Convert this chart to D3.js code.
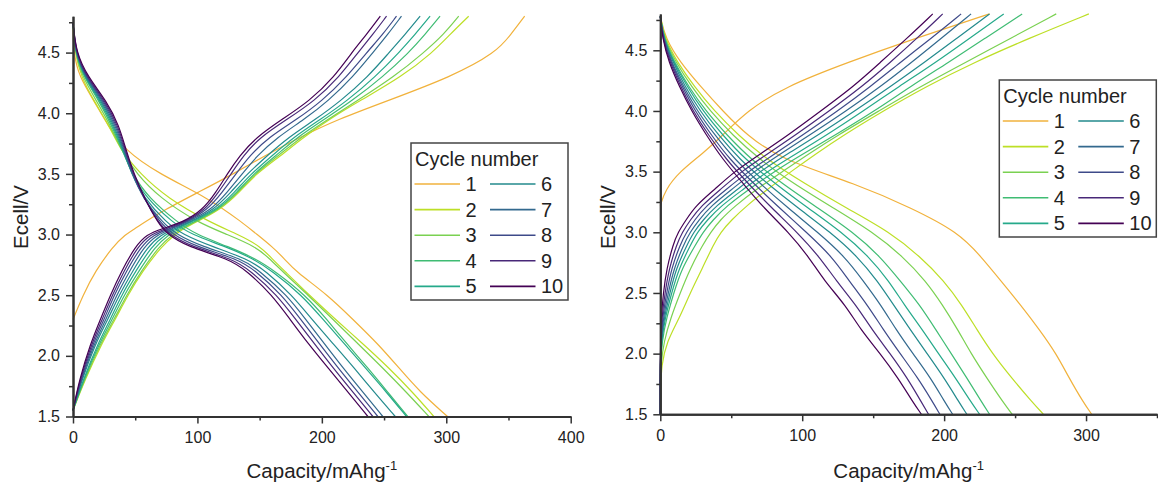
<!DOCTYPE html>
<html>
<head>
<meta charset="utf-8">
<script src="https://cdn.jsdelivr.net/npm/d3@7"></script>
<style>
  body { margin: 0; background: #fff; }
  text { font-family: Arial, "Liberation Sans", sans-serif; fill: #222; }
</style>
</head>
<body>
<script>
// cycle numbers and their colours
const cycles = [1, 2, 3, 4, 5, 6, 7, 8, 9, 10];
const cycleColors = ['#f1b23c', '#bddf26', '#7ad151', '#3fbc73', '#25a98a',
  '#238a8d', '#33698e', '#3e4a89', '#482878', '#440154'];

// left panel: capacity (mAh/g) read at fixed voltage levels, one row per cycle
const leftChargeV = [1.55, 1.8, 2.1, 2.3, 2.5, 2.7, 2.9, 3.0, 3.05, 3.1, 3.2,
  3.35, 3.5, 3.65, 3.8, 3.95, 4.1, 4.3, 4.5, 4.65, 4.8];
const leftChargeCap = [
  [null, null, null, 0, 8, 18, 32, 42, 50, 57, 73, 101, 129, 154, 182, 213, 252, 304, 340, 352, 363],
  [0, 9.5, 23, 34, 44, 56, 71, 82, 89, 98, 118, 134, 147, 167, 185, 206, 230, 264, 289, 303, 318],
  [0, 9, 22, 33, 43, 55, 69, 80, 88, 97, 117, 133, 146, 165, 183, 205, 228, 258, 282, 298, 310],
  [0, 8.5, 21, 31.5, 41, 53, 66, 77, 86, 96, 116, 132, 145, 163, 180, 202, 224, 249, 270, 283, 295],
  [0, 8, 20, 30, 39, 50.5, 63, 74, 84, 94, 115, 130, 143, 160, 177, 199, 220, 243, 262, 275, 287],
  [0, 7, 18, 28, 37, 48, 60, 71, 82, 93, 113, 127, 140, 156, 173, 195, 215, 237, 254, 267, 279],
  [0, 6.5, 17, 26.5, 35, 45.5, 57, 68, 80, 91, 111, 124, 136, 148, 164, 186, 205, 225, 241, 253, 264],
  [0, 6, 16, 25, 33, 43, 54.5, 65, 78, 90, 108, 120, 131, 142, 157, 180, 200, 220, 236, 249, 260],
  [0, 5.5, 15, 23.5, 31.5, 41, 52, 62, 75, 89, 106, 117, 127, 137, 150, 172, 194, 214, 229, 241, 252],
  [0, 5, 14, 22, 30, 39, 50, 59, 72, 88, 104, 115, 124, 134, 147, 168, 190, 210, 224, 236, 247],
];
const leftDischargeV = [4.75, 4.5, 4.3, 4.1, 3.9, 3.7, 3.5, 3.3, 3.1, 3.0, 2.9,
  2.8, 2.7, 2.5, 2.3, 2.1, 1.9, 1.7, 1.5];
const leftDischargeCap = [
  [0, 0.3, 5, 17, 28, 41, 69, 109, 136, 148, 160, 170, 178.5, 205, 225, 245, 262, 279, 301],
  [0, 1.5, 6.5, 17, 29, 38, 54, 76, 110, 133, 151, 160, 170, 190, 211, 233, 254, 273, 290],
  [0, 1.6, 7.5, 19, 30, 38.5, 51, 70, 100, 124, 147, 158, 168, 189, 209, 229, 249, 268, 286],
  [0, 1.8, 8.5, 21, 31, 39.5, 47.5, 61, 84, 99, 125, 147, 162, 187, 204, 220, 237, 253, 269],
  [0, 1.8, 9, 22, 32, 40, 47, 59, 80, 95, 123, 145, 160, 184, 201, 218, 235, 252, 268],
  [0, 1.9, 9.5, 23, 33, 40.5, 47, 57, 75, 88, 112, 140, 155, 176, 192, 209, 226, 242, 259],
  [0, 2, 10, 24, 34, 41, 47.5, 56, 72, 83, 104, 136, 150, 172, 187, 202, 217, 233, 249],
  [0, 2.1, 10.5, 25, 35, 41.5, 48, 56.5, 70, 80, 99, 132, 147, 168, 183, 198, 213, 229, 245],
  [0, 2.3, 11, 26, 36, 42, 48.5, 57, 68.5, 77.5, 95, 128, 143, 164, 179, 194, 209, 225, 241],
  [0, 2.5, 12, 27, 37, 42.5, 49, 57.5, 68, 76, 92, 125, 140, 160, 174.5, 189, 205, 221, 237],
];

// right panel
const rightChargeV = [1.5, 1.7, 1.9, 2.1, 2.3, 2.5, 2.7, 2.9, 3.0, 3.1, 3.22,
  3.35, 3.5, 3.65, 3.8, 4.0, 4.2, 4.4, 4.6, 4.8];
const rightChargeCap = [
  [null, null, null, null, null, null, null, null, null, null, 0, 3.5, 13.5, 30, 44, 61, 88, 132, 180, 232],
  [0, 0.3, 0.7, 4.5, 13.8, 21, 29.5, 37.5, 42.5, 50, 61, 75, 92, 110, 129, 157, 187, 221, 260, 302],
  [0, 0, 0.3, 2.5, 7.5, 14, 21, 30, 35.5, 42, 53, 67, 86, 105, 125, 154, 183, 215, 247, 279],
  [0, 0, 0.1, 1.2, 4.5, 9.5, 15, 25, 30, 37, 47, 62, 80, 101, 123, 151, 176, 203, 229, 255],
  [0, 0, 0, 0.8, 3.5, 8, 13, 21.5, 26, 33, 43, 58, 75, 96, 117, 143, 168, 194, 218, 242],
  [0, 0, 0, 0.6, 2.8, 6.8, 11, 19, 23.5, 30, 39.5, 54, 70, 90, 111, 137, 162, 186, 209, 232],
  [0, 0, 0, 0.5, 2.2, 5.6, 9.5, 16.5, 21, 27, 36, 50, 66, 85, 105, 131, 155, 177, 198, 219],
  [0, 0, 0, 0.4, 1.6, 4.5, 7.8, 14, 18.5, 24, 32.5, 46, 62, 81, 100, 125, 148, 169, 191, 212],
  [0, 0, 0, 0.3, 1.1, 3.3, 6.2, 11.5, 15.5, 21, 29, 42, 57, 76, 95, 119, 142, 162, 181, 199],
  [0, 0, 0, 0.2, 0.7, 2.1, 4.5, 9, 12.5, 18, 25, 38, 52, 71, 90, 113, 136, 155, 174, 192],
];
const rightDischargeV = [4.78, 4.6, 4.4, 4.2, 4.0, 3.8, 3.6, 3.4, 3.2, 3.0, 2.8,
  2.6, 2.4, 2.2, 2.0, 1.8, 1.6, 1.5];
const rightDischargeCap = [
  [0, 3.5, 14, 28.5, 44, 61, 85, 138, 177, 210, 226, 240, 254, 267, 279, 288, 298, 304],
  [0, 3, 12, 24, 38, 55, 75, 102, 131, 162, 183, 200, 212.5, 223, 234, 247.5, 262, 270],
  [0, 2.7, 11, 22, 35, 51, 70, 94, 122, 150, 171, 187, 199, 209.5, 219, 230, 241.5, 248],
  [0, 2.4, 10, 20, 32, 47, 64, 86, 111, 136, 155, 169, 183, 194, 205, 216, 226.5, 232],
  [0, 2.3, 9.5, 19, 30, 44, 60, 81, 104, 128, 147, 161, 172, 184.5, 196, 208, 219, 225],
  [0, 2.1, 9, 17.5, 28, 41, 56, 75.5, 97, 120, 139, 153, 164.5, 176, 188, 200, 210.5, 216],
  [0, 2, 8, 16.5, 26, 38.5, 52.5, 70.5, 90, 111, 130, 143, 155.5, 166, 178, 190.5, 200.5, 206],
  [0, 1.8, 7.5, 15.5, 24.5, 36, 49, 66, 84, 103, 121, 133, 146, 157, 169, 181.5, 192, 197],
  [0, 1.6, 6.8, 14.5, 23, 34, 46.5, 62, 78.5, 96.5, 112, 124, 138, 149, 162, 174, 184, 189],
  [0, 1.5, 6, 13.5, 22, 32.5, 44, 58.5, 73, 90.5, 104.5, 115.5, 130.5, 141, 155, 167.5, 178, 184],
];

const leftXTicks = [0, 100, 200, 300, 400];
const rightXTicks = [0, 100, 200, 300];
const yTicks = [1.5, 2.0, 2.5, 3.0, 3.5, 4.0, 4.5];

const svg = d3.select('body')
  .append('svg')
  .attr('width', 1158)
  .attr('height', 484);

// pair one capacity row with its voltage levels, dropping missing values
function toPoints(volts, caps) {
  return volts.map((v, i) => ({ v, c: caps[i] }))
    .filter((d) => d.c !== null);
}

function drawPanel(p) {
  const x = d3.scaleLinear().domain([0, p.xMax]).range([p.left, p.right]);
  const y = d3.scaleLinear().domain([1.5, 4.8]).range([p.bottom, p.top]);
  const g = svg.append('g');

  // basis keeps the hand-read curves smooth
  const line = d3.line()
    .x((d) => x(d.c))
    .y((d) => y(d.v))
    .curve(d3.curveBasis);

  cycles.forEach((cyc, i) => {
    [[p.chargeV, p.chargeCap[i]], [p.dischargeV, p.dischargeCap[i]]].forEach(([vs, cs]) => {
      g.append('path')
        .attr('d', line(toPoints(vs, cs)))
        .attr('fill', 'none')
        .attr('stroke', cycleColors[i])
        .attr('stroke-width', 1.2);
    });
  });

  // minor ticks first, then major ticks with labels
  const xMinor = d3.range(50, p.xMax + 1, 100);
  g.append('g')
    .attr('transform', `translate(0,${p.bottom})`)
    .call(d3.axisBottom(x).tickValues(xMinor).tickFormat('').tickSize(4).tickSizeOuter(0));
  g.append('g')
    .attr('transform', `translate(0,${p.bottom})`)
    .call(d3.axisBottom(x).tickValues(p.xTicks).tickSize(7).tickPadding(8).tickSizeOuter(0));

  const yMinor = d3.range(1.75, 4.8, 0.5);
  g.append('g')
    .attr('transform', `translate(${p.left},0)`)
    .call(d3.axisLeft(y).tickValues(yMinor).tickFormat('').tickSize(4).tickSizeOuter(0));
  g.append('g')
    .attr('transform', `translate(${p.left},0)`)
    .call(d3.axisLeft(y).tickValues(yTicks).tickFormat(d3.format('.1f'))
      .tickSize(7).tickPadding(6).tickSizeOuter(0));

  g.selectAll('.domain').attr('stroke', '#333').attr('stroke-width', 2);
  g.selectAll('.tick line').attr('stroke', '#333').attr('stroke-width', 1.5);
  g.selectAll('.tick text')
    .attr('fill', '#222')
    .style('font-size', '16px')
    .style('font-family', 'Arial, "Liberation Sans", sans-serif');

  // axis titles
  const xt = g.append('text')
    .attr('x', (p.left + p.right) / 2)
    .attr('y', 478)
    .attr('text-anchor', 'middle')
    .style('font-size', '20.5px');
  xt.append('tspan').text('Capacity/mAhg');
  xt.append('tspan').text('-1').attr('dy', -8).style('font-size', '13px');

  g.append('text')
    .attr('transform', `translate(${p.left - 45},217) rotate(-90)`)
    .attr('text-anchor', 'middle')
    .style('font-size', '20.5px')
    .text('Ecell/V');

  // legend
  const lg = g.append('g').attr('transform', `translate(${p.legendX},${p.legendY})`);
  lg.append('rect')
    .attr('width', 157)
    .attr('height', 157)
    .attr('fill', '#fff')
    .attr('stroke', '#444')
    .attr('stroke-width', 1.5);
  lg.append('text')
    .attr('x', 4)
    .attr('y', 16)
    .attr('dy', '0.35em')
    .style('font-size', '20px')
    .text('Cycle number');
  cycles.forEach((cyc, i) => {
    const col = Math.floor(i / 5);
    const row = i % 5;
    const ox = col * 75.5;
    const oy = 41 + row * 25.6;
    lg.append('line')
      .attr('x1', 3.5 + ox)
      .attr('x2', 49 + ox)
      .attr('y1', oy)
      .attr('y2', oy)
      .attr('stroke', cycleColors[i])
      .attr('stroke-width', 1.6);
    lg.append('text')
      .attr('x', 54.5 + ox)
      .attr('y', oy)
      .attr('dy', '0.35em')
      .style('font-size', '20px')
      .text(cyc);
  });
}

drawPanel({
  left: 73, right: 570.7, top: 16.2, bottom: 416.5, xMax: 400, xTicks: leftXTicks,
  chargeV: leftChargeV, chargeCap: leftChargeCap,
  dischargeV: leftDischargeV, dischargeCap: leftDischargeCap,
  legendX: 411, legendY: 143,
});

drawPanel({
  left: 660.3, right: 1157, top: 13.9, bottom: 414.3, xMax: 350, xTicks: rightXTicks,
  chargeV: rightChargeV, chargeCap: rightChargeCap,
  dischargeV: rightDischargeV, dischargeCap: rightDischargeCap,
  legendX: 999.3, legendY: 80,
});
</script>
</body>
</html>
